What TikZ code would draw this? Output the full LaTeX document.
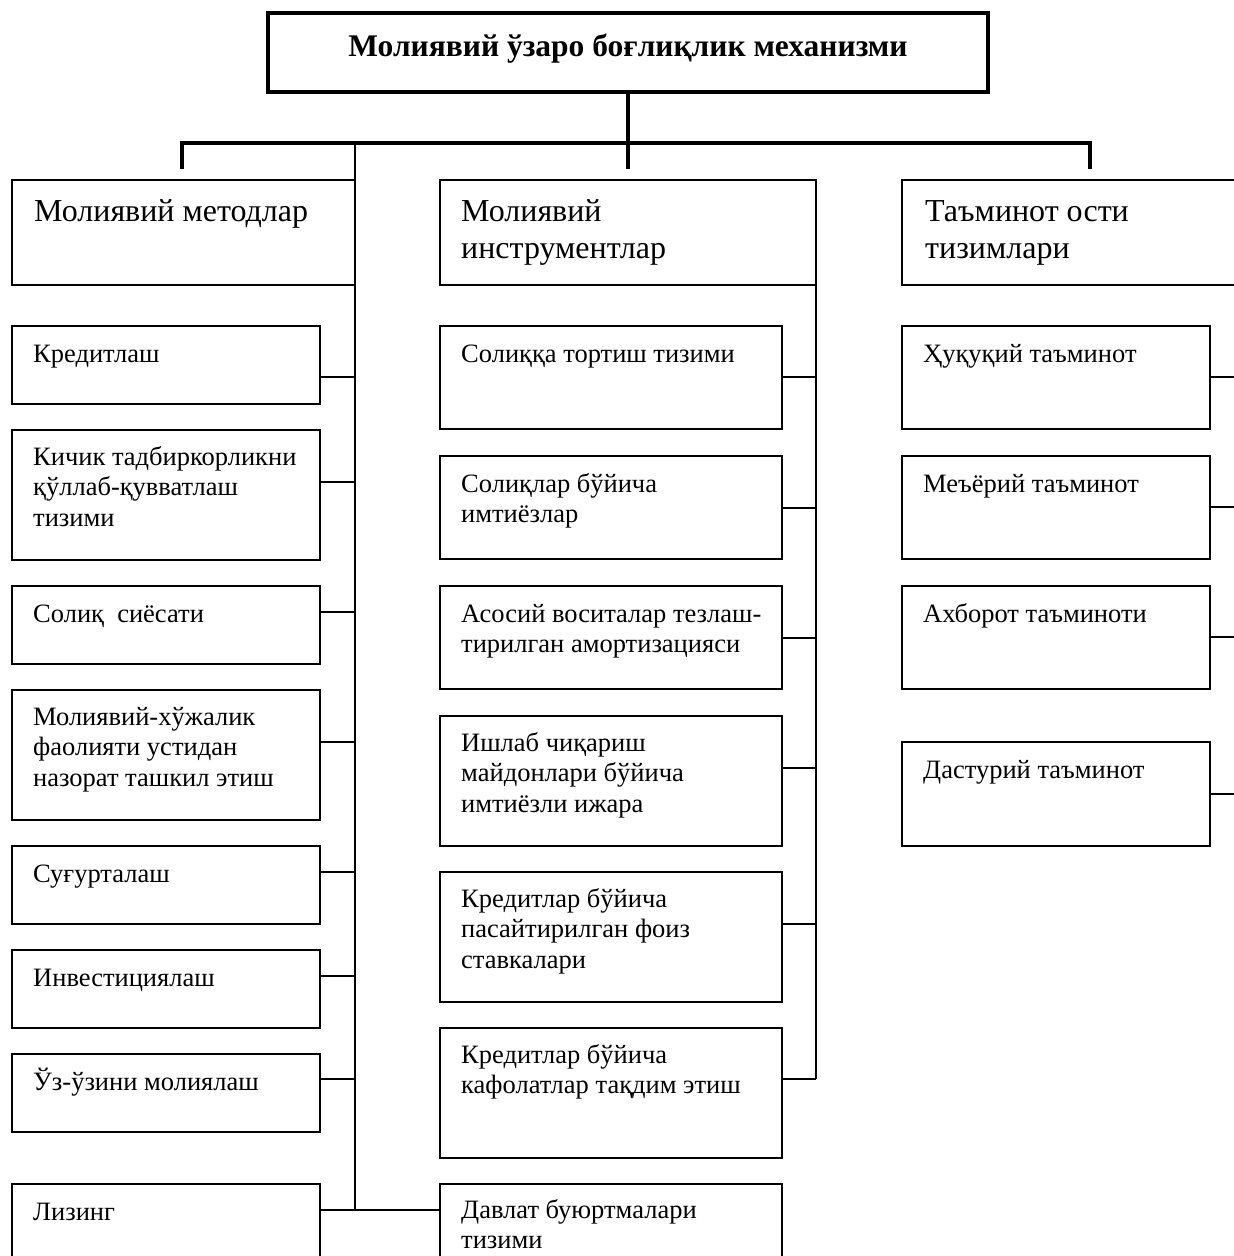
\documentclass[tikz,border=0pt]{standalone}
\usepackage{fontspec}
\setmainfont{Liberation Serif}
\tikzset{
  box/.style={draw, line width=1.6pt, inner sep=0pt, outer sep=0pt, anchor=north west},
  topbox/.style={draw, line width=3.2pt, inner sep=0pt, outer sep=0pt, anchor=north west},
  conn/.style={line width=1.3pt},
  tree/.style={line width=3.6pt},
  body/.style={anchor=base west, inner sep=0pt, font=\fontsize{26.5}{30.5}\selectfont},
  head/.style={anchor=base west, inner sep=0pt, font=\fontsize{32}{37}\selectfont},
}
% #1 name, #2 left, #3 top, #4 right, #5 bottom, #6 text style, #7 dx, #8 dy, #9 text
\newcommand\bx[9]{%
  \node[box, minimum width=#4pt-#2pt, minimum height=#5pt-#3pt] (#1) at (#2pt,-#3pt) {};
  \node[#6] (#1t) at ([shift={(#7pt,-#8pt)}]#1.north west) {\parbox[t]{380pt}{\raggedright #9}};
}
\begin{document}
\begin{tikzpicture}
\useasboundingbox (0,0) rectangle (1234pt,-1256pt);
\clip (0,0) rectangle (1234pt,-1256pt);

% title
\node[topbox, minimum width=720pt, minimum height=79pt] (top) at (268pt,-13pt) {};
\node[anchor=base, inner sep=0pt, font=\fontsize{31.5}{36}\selectfont\bfseries] (topt) at (628pt,-56pt) {Молиявий ўзаро боғлиқлик механизми};

% tree coordinates
\coordinate (J) at (628pt,-143pt);
\coordinate (JL) at (182pt,-143pt);
\coordinate (JR) at (1090pt,-143pt);
\coordinate (DL) at (182pt,-169pt);
\coordinate (DM) at (628pt,-169pt);
\coordinate (DR) at (1090pt,-169pt);
\coordinate (TL) at (355pt,-143pt);
\coordinate (TLb) at (355pt,-1210pt);
\coordinate (TM) at (816pt,-285pt);
\coordinate (TMb) at (816pt,-1079pt);
\coordinate (TR) at (1245pt,-300pt);

\draw[tree] (top.south) -- (J);
\draw[tree] ([xshift=-1.8pt]JL) -- ([xshift=1.8pt]JR);
\draw[tree] (JL) -- (DL);
\draw[tree] (J) -- (DM);
\draw[tree] (JR) -- (DR);
\draw[conn] (TL) -- (TLb);
\draw[conn] (TM) -- (TMb);

% header boxes
\bx{h1}{12}{180}{355}{285}{head}{22}{41}{Молиявий методлар}
\bx{h2}{440}{180}{816}{285}{head}{21}{41}{Молиявий\\инструментлар}
\bx{h3}{902}{180}{1260}{285}{head}{23}{41}{Таъминот ости\\тизимлари}

% left column
\bx{l1}{12}{326}{320}{404}{body}{21}{36}{Кредитлаш}
\bx{l2}{12}{430}{320}{560}{body}{21}{35}{Кичик тадбиркорликни\\қўллаб-қувватлаш\\тизими}
\bx{l3}{12}{586}{320}{664}{body}{21}{36}{Солиқ\ \ сиёсати}
\bx{l4}{12}{690}{320}{820}{body}{21}{35}{Молиявий-хўжалик\\фаолияти устидан\\назорат ташкил этиш}
\bx{l5}{12}{846}{320}{924}{body}{21}{36}{Суғурталаш}
\bx{l6}{12}{950}{320}{1028}{body}{21}{36}{Инвестициялаш}
\bx{l7}{12}{1054}{320}{1132}{body}{21}{36}{Ўз-ўзини молиялаш}
\bx{l8}{12}{1184}{320}{1300}{body}{21}{36}{Лизинг}

% middle column
\bx{m1}{440}{326}{782}{429}{body}{21}{36}{Солиққа тортиш тизими}
\bx{m2}{440}{456}{782}{559}{body}{21}{36}{Солиқлар бўйича\\имтиёзлар}
\bx{m3}{440}{586}{782}{689}{body}{21}{36}{Асосий воситалар тезлаш-\\тирилган амортизацияси}
\bx{m4}{440}{716}{782}{846}{body}{21}{35}{Ишлаб чиқариш\\майдонлари бўйича\\имтиёзли ижара}
\bx{m5}{440}{872}{782}{1002}{body}{21}{35}{Кредитлар бўйича\\пасайтирилган фоиз\\ставкалари}
\bx{m6}{440}{1028}{782}{1158}{body}{21}{35}{Кредитлар бўйича\\кафолатлар тақдим этиш}
\bx{m7}{440}{1184}{782}{1300}{body}{21}{34}{Давлат буюртмалари\\тизими}

% right column
\bx{r1}{902}{326}{1210}{429}{body}{21}{36}{Ҳуқуқий таъминот}
\bx{r2}{902}{456}{1210}{559}{body}{21}{36}{Меъёрий таъминот}
\bx{r3}{902}{586}{1210}{689}{body}{21}{36}{Ахборот таъминоти}
\bx{r4}{902}{742}{1210}{846}{body}{21}{36}{Дастурий таъминот}

% left connectors
\path ([yshift=-51pt]l1.north east) coordinate (cl1);
\path ([yshift=-52pt]l2.north east) coordinate (cl2);
\path ([yshift=-26pt]l3.north east) coordinate (cl3);
\path ([yshift=-52pt]l4.north east) coordinate (cl4);
\path ([yshift=-26pt]l5.north east) coordinate (cl5);
\path ([yshift=-26pt]l6.north east) coordinate (cl6);
\path ([yshift=-25pt]l7.north east) coordinate (cl7);
\foreach \c in {cl1,cl2,cl3,cl4,cl5,cl6,cl7}
  \draw[conn] (\c) -- (\c -| TL);
\draw[conn] ([yshift=-26pt]l8.north east) -- ([yshift=-26pt]m7.north west);

% middle connectors
\path ([yshift=-51pt]m1.north east) coordinate (cm1);
\path ([yshift=-52pt]m2.north east) coordinate (cm2);
\path ([yshift=-52pt]m3.north east) coordinate (cm3);
\path ([yshift=-52pt]m4.north east) coordinate (cm4);
\path ([yshift=-52pt]m5.north east) coordinate (cm5);
\path ([yshift=-51pt]m6.north east) coordinate (cm6);
\foreach \c in {cm1,cm2,cm3,cm4,cm5,cm6}
  \draw[conn] (\c) -- (\c -| TM);

% right connectors
\path ([yshift=-51pt]r1.north east) coordinate (cr1);
\path ([yshift=-51pt]r2.north east) coordinate (cr2);
\path ([yshift=-51pt]r3.north east) coordinate (cr3);
\path ([yshift=-52pt]r4.north east) coordinate (cr4);
\foreach \c in {cr1,cr2,cr3,cr4}
  \draw[conn] (\c) -- (\c -| TR);
\end{tikzpicture}
\end{document}
